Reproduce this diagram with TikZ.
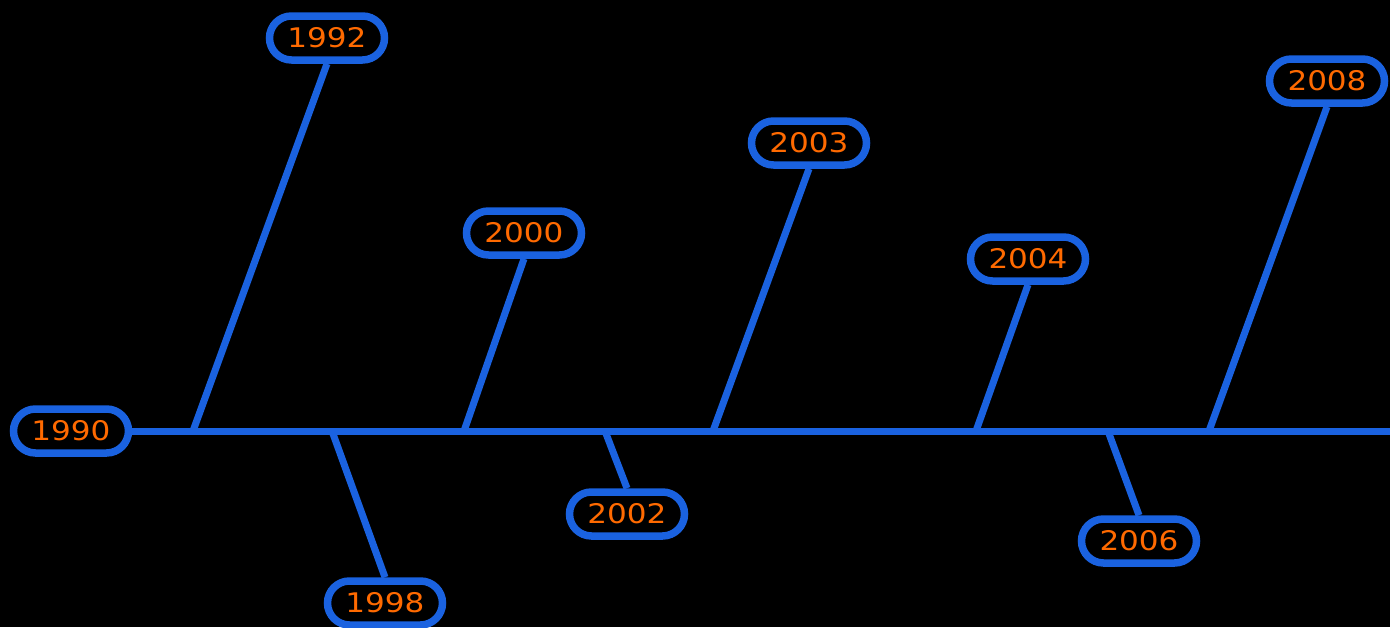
\documentclass[tikz,border=0pt]{standalone}
\usepackage{fontspec}
\newfontfamily\yearfont[FakeStretch=1.15]{DejaVu Sans}
\definecolor{lineblue}{HTML}{1A62E0}
\definecolor{yearorange}{HTML}{FF6A00}
\begin{document}
\begin{tikzpicture}[x=1pt,y=-1pt,
  year/.style={draw=lineblue, line width=7.5pt, rounded corners=22pt,
    minimum width=115pt, minimum height=44pt, inner sep=0pt,
    text=yearorange, font=\yearfont\fontsize{27}{27}\selectfont},
  stem/.style={draw=lineblue, line width=7pt}]
  \fill[black] (0,0) rectangle (1390,627);
  \useasboundingbox (0,0) rectangle (1390,627);

  % year labels
  \node[year] (y1990) at (71,431) {1990};
  \node[year] (y1992) at (327,38) {1992};
  \node[year] (y1998) at (385,603) {1998};
  \node[year] (y2000) at (524,233) {2000};
  \node[year] (y2002) at (627,514) {2002};
  \node[year] (y2003) at (809,143) {2003};
  \node[year] (y2004) at (1028,259) {2004};
  \node[year] (y2006) at (1139,541) {2006};
  \node[year] (y2008) at (1327,81) {2008};

  % points on the axis where the stems start
  \coordinate (a1992) at (193,431);
  \coordinate (a1998) at (332,431);
  \coordinate (a2000) at (464,431);
  \coordinate (a2002) at (605,431);
  \coordinate (a2003) at (713,431);
  \coordinate (a2004) at (976,431);
  \coordinate (a2006) at (1108,431);
  \coordinate (a2008) at (1209,431);
  \coordinate (axisend) at (1393,431);

  % main axis
  \draw[stem] (y1990.east) -- (axisend);

  % stems
  \draw[stem] (a1992) -- (y1992.south);
  \draw[stem] (a2000) -- (y2000.south);
  \draw[stem] (a2003) -- (y2003.south);
  \draw[stem] (a2004) -- (y2004.south);
  \draw[stem] (a2008) -- (y2008.south);
  \draw[stem] (a1998) -- (y1998.north);
  \draw[stem] (a2002) -- (y2002.north);
  \draw[stem] (a2006) -- (y2006.north);
\end{tikzpicture}
\end{document}
